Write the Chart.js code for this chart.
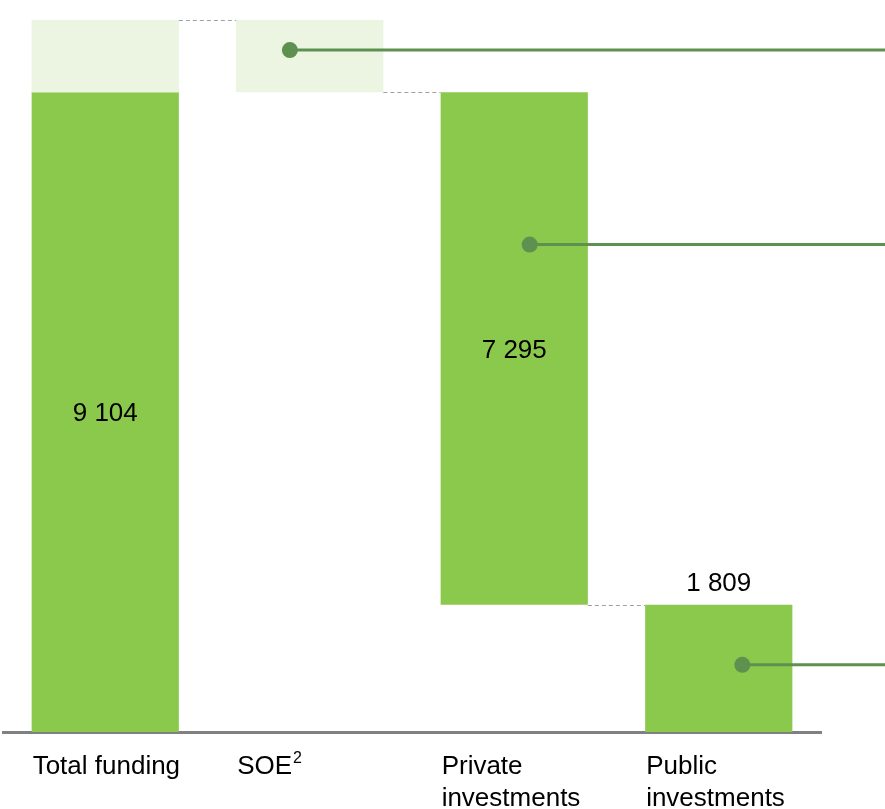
<!DOCTYPE html>
<html>
<head>
  <title>Funding waterfall</title>
  <style>
    body {
      margin: 0;
      background: #ffffff;
      font-family: "Liberation Sans", Arial, sans-serif;
    }
    #wrap {
      width: 885px;
      height: 809px;
    }
  </style>
</head>
<body>
  <div id="wrap">
    <canvas id="fundingChart" width="885" height="809"></canvas>
  </div>

  <script src="https://cdn.jsdelivr.net/npm/chart.js@4"></script>
  <script>
    // data
    const categories = ['Total funding', 'SOE', 'Private\ninvestments', 'Public\ninvestments'];
    const superscripts = ['', '2', '', ''];
    const totalFunding = 9104;
    const privateInv = 7295;
    const publicInv = 1809;
    const soeShare = 1027;   // no label in the picture

    // solid part of each bar as [from, to]
    const mainBars = [
      [0, totalFunding],
      null,
      [publicInv, publicInv + privateInv],
      [0, publicInv]
    ];
    // light part (SOE)
    const soeBars = [
      [totalFunding, totalFunding + soeShare],
      [totalFunding, totalFunding + soeShare],
      null,
      null
    ];
    const valueLabels = ['9 104', '', '7 295', '1 809'];
    const valueInside = [true, false, true, false];

    // callout dots: category index, fraction across bar, value on y axis
    const callouts = [
      { idx: 1, frac: 0.365, val: 9703 },
      { idx: 2, frac: 0.605, val: 6935 },
      { idx: 3, frac: 0.66, val: 956 }
    ];

    const darkGreen = '#8bc94d';
    const lightGreen = '#ebf5e1';
    const calloutColor = '#5e9150';
    const font = '"Liberation Sans", Arial, sans-serif';

    const overlayPlugin = {
      id: 'overlay',
      afterDatasetsDraw(chart) {
        const ctx = chart.ctx;
        const y = chart.scales.y;
        const metaMain = chart.getDatasetMeta(0);
        const metaSoe = chart.getDatasetMeta(1);

        const barEl = (i) => mainBars[i] ? metaMain.data[i] : metaSoe.data[i];
        const barLeft = (i) => barEl(i).x - barEl(i).width / 2;
        const barRight = (i) => barEl(i).x + barEl(i).width / 2;
        const barWidth = (i) => barRight(i) - barLeft(i);

        // dashed connectors between bars
        const steps = [
          [0, 1, totalFunding + soeShare],
          [1, 2, totalFunding],
          [2, 3, publicInv]
        ];
        ctx.save();
        ctx.strokeStyle = '#a0a0a0';
        ctx.lineWidth = 1;
        ctx.setLineDash([4, 3]);
        steps.forEach(([a, b, v]) => {
          const py = Math.round(y.getPixelForValue(v)) + 0.5;
          ctx.beginPath();
          ctx.moveTo(barRight(a), py);
          ctx.lineTo(barLeft(b), py);
          ctx.stroke();
        });
        ctx.restore();

        // value labels
        ctx.save();
        ctx.fillStyle = '#000000';
        ctx.font = '26px ' + font;
        ctx.textAlign = 'center';
        ctx.textBaseline = 'middle';
        valueLabels.forEach((txt, i) => {
          if (!txt) return;
          const el = metaMain.data[i];
          const top = y.getPixelForValue(mainBars[i][1]);
          const bottom = y.getPixelForValue(mainBars[i][0]);
          if (valueInside[i]) {
            ctx.fillText(txt, el.x, (top + bottom) / 2 + 2);
          } else {
            ctx.fillText(txt, el.x, top - 21);
          }
        });
        ctx.restore();

        // callout dots and lines running off to the right
        ctx.save();
        ctx.strokeStyle = calloutColor;
        ctx.fillStyle = calloutColor;
        ctx.lineWidth = 3;
        callouts.forEach(c => {
          const px = barLeft(c.idx) + barWidth(c.idx) * c.frac;
          const py = y.getPixelForValue(c.val);
          ctx.beginPath();
          ctx.moveTo(px, py);
          ctx.lineTo(chart.width, py);
          ctx.stroke();
          ctx.beginPath();
          ctx.arc(px, py, 8, 0, Math.PI * 2);
          ctx.fill();
        });
        ctx.restore();

        // category labels, left aligned with the bars
        ctx.save();
        ctx.fillStyle = '#000000';
        ctx.textAlign = 'left';
        ctx.textBaseline = 'middle';
        categories.forEach((lab, i) => {
          const lx = barLeft(i) + 1;
          lab.split('\n').forEach((line, k) => {
            const ly = y.bottom + 35 + k * 32;
            ctx.font = '26px ' + font;
            ctx.fillText(line, lx, ly);
            if (k === 0 && superscripts[i]) {
              const w = ctx.measureText(line).width;
              ctx.font = '16px ' + font;
              ctx.fillText(superscripts[i], lx + w + 1, ly - 8);
            }
          });
        });
        ctx.restore();
      }
    };

    const ctx = document.getElementById('fundingChart').getContext('2d');
    new Chart(ctx, {
      type: 'bar',
      data: {
        labels: categories,
        datasets: [
          {
            label: 'Funding',
            data: mainBars,
            backgroundColor: darkGreen,
            grouped: false,
            order: 2
          },
          {
            label: 'SOE',
            data: soeBars,
            backgroundColor: lightGreen,
            grouped: false,
            order: 1
          }
        ]
      },
      options: {
        responsive: false,
        animation: false,
        layout: {
          padding: { top: 20, left: 3, right: 64, bottom: 77 }
        },
        datasets: {
          bar: {
            barPercentage: 0.72,
            categoryPercentage: 1.0
          }
        },
        plugins: {
          legend: { display: false },
          tooltip: { enabled: false }
        },
        scales: {
          x: {
            grid: { display: false, drawTicks: false },
            border: { display: true, color: '#808080', width: 3 },
            ticks: { display: false }
          },
          y: {
            display: false,
            min: 0,
            max: totalFunding + soeShare
          }
        }
      },
      plugins: [overlayPlugin]
    });
  </script>
</body>
</html>
